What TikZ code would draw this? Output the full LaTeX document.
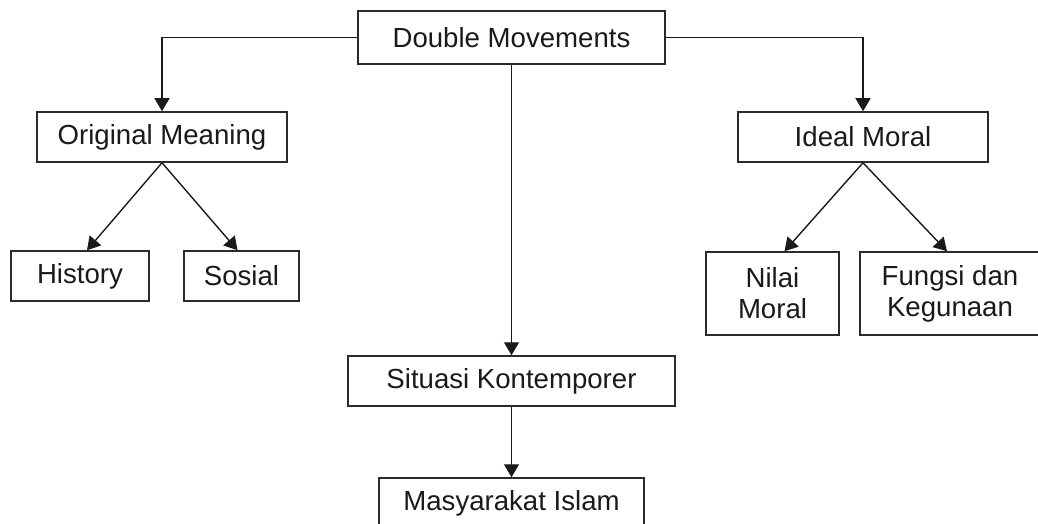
\documentclass[tikz,border=0pt]{standalone}
\usepackage{fontspec}
\setmainfont{Liberation Sans}
\usetikzlibrary{arrows.meta}
\definecolor{ink}{HTML}{1A1A1A}
\definecolor{edge}{HTML}{2B2B2B}
\tikzset{
  mapbox/.style={draw=edge, fill=white, line width=0.75pt, align=center,
                 inner sep=2pt, text=ink, font=\fontsize{13.8}{15.5}\selectfont},
  arr/.style={-{Triangle[length=6.5pt, width=7.5pt]}, draw=ink, line width=0.7pt},
}
\begin{document}
\begin{tikzpicture}[x=0.5pt, y=-0.5pt]
  \useasboundingbox (0,0) rectangle (1038,524);
  \node[mapbox, minimum width=153.5pt, minimum height=26.5pt] (dm) at (511.5,37.5)
    {Double Movements};
  \node[mapbox, minimum width=125pt, minimum height=25pt] (om) at (162,137)
    {Original Meaning};
  \node[mapbox, minimum width=125pt, minimum height=25pt] (im) at (863,137)
    {Ideal Moral};
  \node[mapbox, minimum width=69pt, minimum height=25pt] (hist) at (80,276)
    {History};
  \node[mapbox, minimum width=57.5pt, minimum height=25pt] (sos) at (241.5,276)
    {Sosial};
  \node[mapbox, minimum width=66.5pt, minimum height=41.5pt] (nilai) at (772.5,293.5)
    {Nilai\\Moral};
  \node[mapbox, minimum width=90pt, minimum height=41.5pt] (fungsi) at (950,293.5)
    {Fungsi dan\\Kegunaan};
  \node[mapbox, minimum width=163.5pt, minimum height=25pt] (sk) at (511.5,381)
    {Situasi Kontemporer};
  \node[mapbox, minimum width=132.5pt, minimum height=25pt] (mi) at (511.5,503)
    {Masyarakat Islam};
  \draw[arr] (dm.west) -| (om.north);
  \draw[arr] (dm.east) -| (im.north);
  \draw[arr] (dm.south) -- (sk.north);
  \draw[arr] (sk.south) -- (mi.north);
  \draw[arr] (om.south) -- ([xshift=3.5pt]hist.north);
  \draw[arr] (om.south) -- ([xshift=-2pt]sos.north);
  \draw[arr] (im.south) -- ([xshift=6pt]nilai.north);
  \draw[arr] (im.south) -- ([xshift=-1.5pt]fungsi.north);
\end{tikzpicture}
\end{document}
